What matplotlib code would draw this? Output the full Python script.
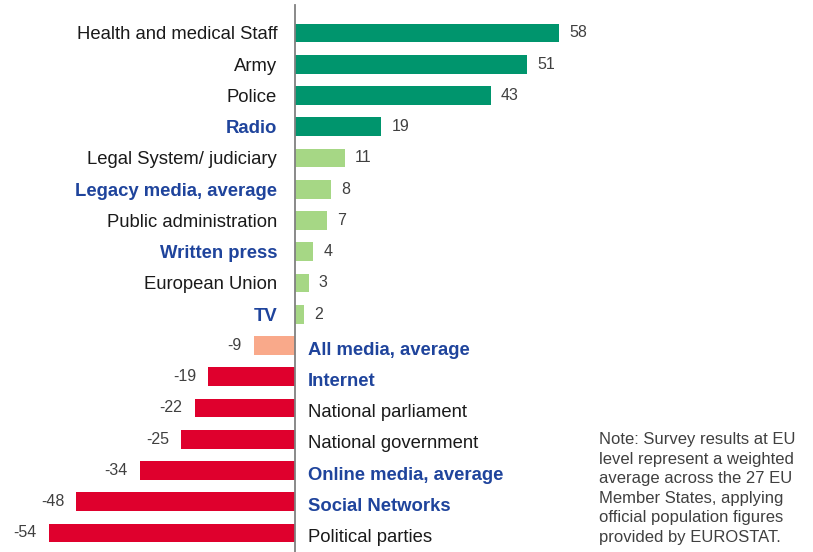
import numpy as np
import matplotlib
matplotlib.use('Agg')
import matplotlib.pyplot as plt

plt.rcParams['font.family'] = ['Liberation Sans', 'DejaVu Sans']

categories = ['Health and medical Staff', 'Army', 'Police', 'Radio',
              'Legal System/ judiciary', 'Legacy media, average',
              'Public administration', 'Written press', 'European Union', 'TV',
              'All media, average', 'Internet', 'National parliament',
              'National government', 'Online media, average',
              'Social Networks', 'Political parties']
values = [58, 51, 43, 19, 11, 8, 7, 4, 3, 2, -9, -19, -22, -25, -34, -48, -54]
media = ['Radio', 'Legacy media, average', 'Written press', 'TV',
         'All media, average', 'Internet', 'Online media, average',
         'Social Networks']
note = ('Note: Survey results at EU\nlevel represent a weighted\n'
        'average across the 27 EU\nMember States, applying\n'
        'official population figures\nprovided by EUROSTAT.')

def bar_colour(v):
    if v >= 15:
        return '#00956d'
    if v > 0:
        return '#a6d785'
    if v > -15:
        return '#f9a98a'
    return '#df002d'

fig = plt.figure(figsize=[8.13, 5.52], dpi=100)
ax = fig.add_axes([0, 0, 1, 1])
y = np.arange(len(categories))
ax.barh(y, values, height=0.6, color=[bar_colour(v) for v in values])
ax.set_xlim(-64.8, 113.8)
ax.set_ylim(16.61, -1.056)
ax.axis('off')
ax.plot([0, 0], [-0.9, 16.61], color='#808080', linewidth=1.3)

for i, (c, v) in enumerate(zip(categories, values)):
    is_media = c in media
    col = '#1f449c' if is_media else '#1a1a1a'
    wt = 'bold' if is_media else 'normal'
    if v > 0:
        ax.text(-3.9, i + 0.06, c, ha='right', va='center', fontsize=13.3,
                color=col, fontweight=wt)
        ax.text(v + 2.2, i, str(v), ha='left', va='center', fontsize=11.5,
                color='#404040')
    else:
        ax.text(2.9, i + 0.15, c, ha='left', va='center', fontsize=13.3,
                color=col, fontweight=wt)
        ax.text(v - 2.7, i, str(v), ha='right', va='center', fontsize=11.5,
                color='#404040')

fig.text(599 / 813, 1 - 432 / 552, note, ha='left', va='top', fontsize=12,
         color='#404040', linespacing=1.38)

plt.savefig('out.png', dpi=100)
